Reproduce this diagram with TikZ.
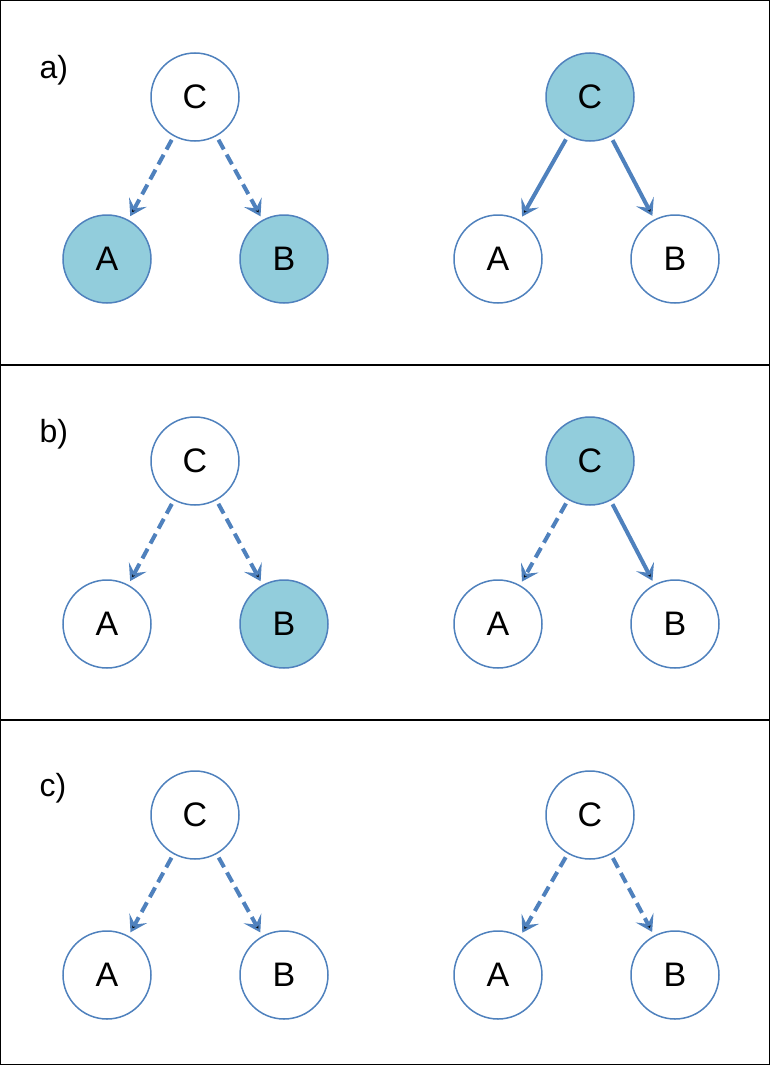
\documentclass[tikz,border=0pt]{standalone}
\usepackage{fontspec}
\setmainfont{Liberation Sans}
\usetikzlibrary{arrows.meta}
\definecolor{edgeblue}{HTML}{4F81BD}
\definecolor{obsblue}{HTML}{92CDDC}
\begin{document}
\begin{tikzpicture}[x=1pt,y=-1pt,>={Stealth[length=16pt,width=20pt,inset=7pt]},
  var node/.style={circle,draw=edgeblue,line width=1.5pt,fill=white,minimum size=88pt,inner sep=0pt,font=\fontsize{34}{38}\selectfont},
  obs node/.style={var node,fill=obsblue},
  link/.style={->,draw=edgeblue,line width=4pt,shorten >=4pt,shorten <=4pt},
  hidden link/.style={link,dash pattern=on 11pt off 6pt},
  panel/.style={draw=black,line width=1.2pt},
  tag/.style={font=\fontsize{32}{36}\selectfont,anchor=west}]

  \useasboundingbox (0,0) rectangle (770,1065);
  \draw[panel] (0.6,0.6) rectangle (769.4,365);
  \draw[panel] (0.6,365) rectangle (769.4,720);
  \draw[panel] (0.6,720) rectangle (769.4,1064.4);

  % a)
  \node[tag] (la) at (36,70) {a)};
  \node[var node] (aC1) at (195,97) {C};
  \node[obs node] (aA1) at (107,259) {A};
  \node[obs node] (aB1) at (284,259) {B};
  \node[obs node] (aC2) at (590,97) {C};
  \node[var node] (aA2) at (498,259) {A};
  \node[var node] (aB2) at (675,259) {B};
  \path[hidden link] (aC1) edge (aA1) (aC1) edge (aB1);
  \path[link] (aC2) edge (aA2) (aC2) edge (aB2);

  % b)
  \node[tag] (lb) at (36,434) {b)};
  \node[var node] (bC1) at (195,461) {C};
  \node[var node] (bA1) at (107,624) {A};
  \node[obs node] (bB1) at (284,624) {B};
  \node[obs node] (bC2) at (590,461) {C};
  \node[var node] (bA2) at (498,624) {A};
  \node[var node] (bB2) at (675,624) {B};
  \path[hidden link] (bC1) edge (bA1) (bC1) edge (bB1) (bC2) edge (bA2);
  \path[link] (bC2) edge (bB2);

  % c)
  \node[tag] (lc) at (36,788) {c)};
  \node[var node] (cC1) at (195,815) {C};
  \node[var node] (cA1) at (107,975) {A};
  \node[var node] (cB1) at (284,975) {B};
  \node[var node] (cC2) at (590,815) {C};
  \node[var node] (cA2) at (498,975) {A};
  \node[var node] (cB2) at (675,975) {B};
  \path[hidden link] (cC1) edge (cA1) (cC1) edge (cB1) (cC2) edge (cA2) (cC2) edge (cB2);
\end{tikzpicture}
\end{document}
